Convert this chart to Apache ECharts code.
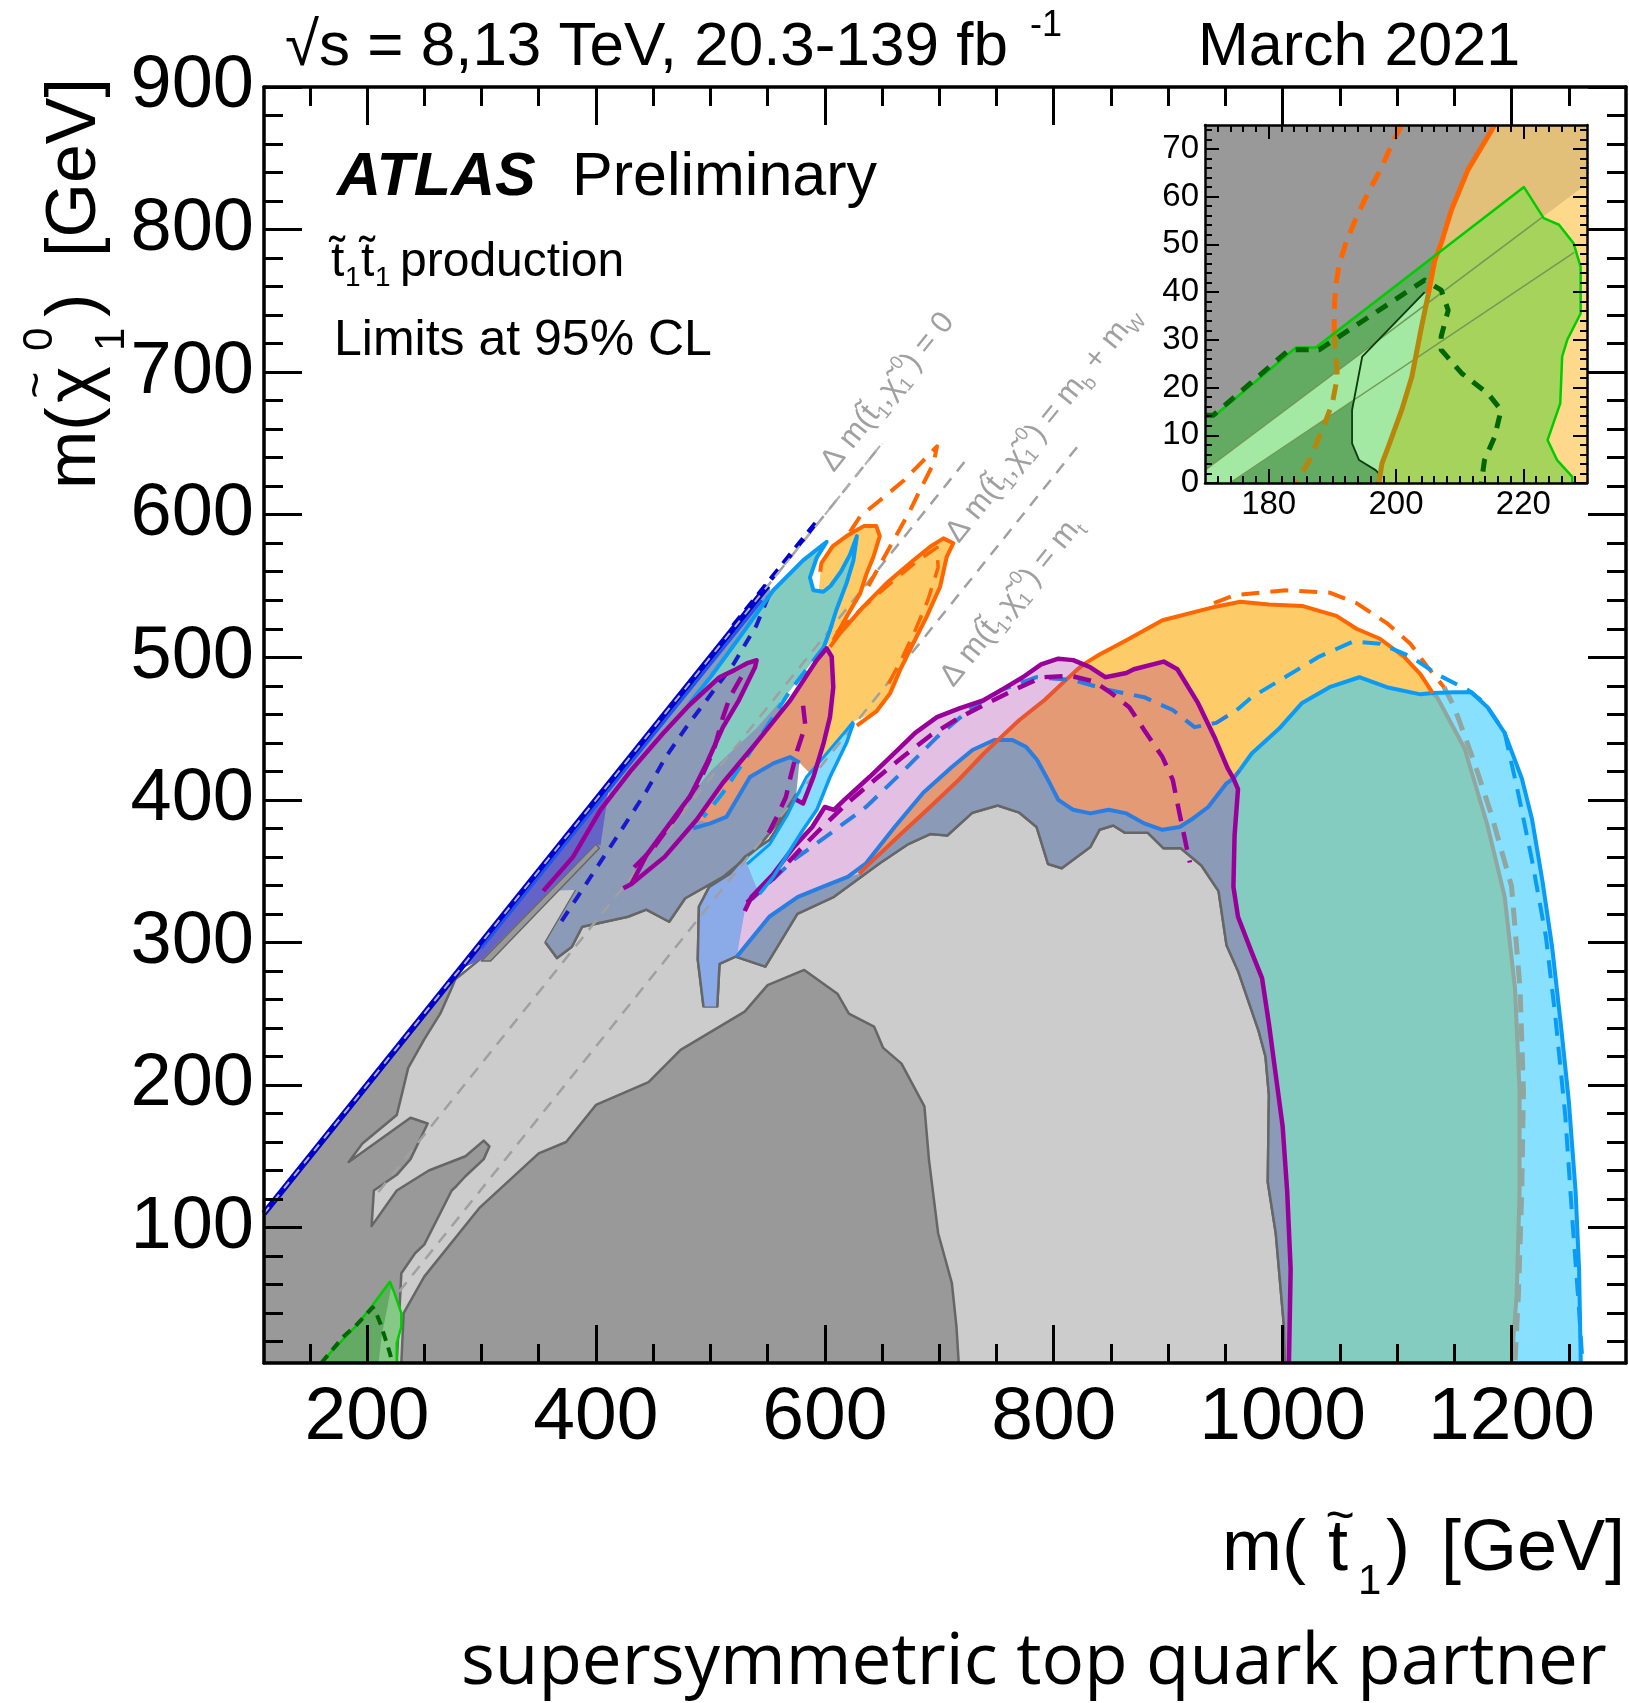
<!DOCTYPE html>
<html>
<head>
<meta charset="utf-8">
<script src="https://cdn.jsdelivr.net/npm/echarts@6/dist/echarts.min.js"></script>
<style>
html, body { margin: 0; padding: 0; background: #ffffff; }
#chart { width: 1629px; height: 1703px; }
</style>
</head>
<body>
<div id="chart"></div>
<script>
// ---------- axes ----------
const X_RANGE = [110, 1300];
const Y_RANGE = [5, 900];
const xMajorTicks = [200, 400, 600, 800, 1000, 1200];
const xMinorTicks = [150, 250, 300, 350, 450, 500, 550, 650, 700, 750, 850, 900, 950, 1050, 1100, 1150, 1250];
const yMajorTicks = [100, 200, 300, 400, 500, 600, 700, 800, 900];
const yMinorTicks = [20, 40, 60, 80, 120, 140, 160, 180, 220, 240, 260, 280, 320, 340, 360, 380, 420, 440, 460, 480,
  520, 540, 560, 580, 620, 640, 660, 680, 720, 740, 760, 780, 820, 840, 860, 880];

const INSET_X_RANGE = [170, 230];
const INSET_Y_RANGE = [0, 75];
const insetXMajorTicks = [180, 200, 220];
const insetXMinorTicks = [172, 174, 176, 178, 182, 184, 186, 188, 190, 192, 194, 196, 198, 202, 204, 206, 208, 210,
  212, 214, 216, 218, 222, 224, 226, 228];
const insetYMajorTicks = [0, 10, 20, 30, 40, 50, 60, 70];
const insetYMinorTicks = [2, 4, 6, 8, 12, 14, 16, 18, 22, 24, 26, 28, 32, 34, 36, 38, 42, 44, 46, 48, 52, 54, 56, 58,
  62, 64, 66, 68, 72, 74];

// ---------- kinematic boundaries ----------
const dmZero = [[110, 110], [650, 650]];
const dmWb = [[210, 125], [725, 640]];
const dmTop = [[228, 55], [825, 652]];

// ---------- grey excluded regions ----------
const lgS1Edge = [[356, 300], [366, 289], [379, 297], [388, 311], [428, 318], [444, 323], [464, 314.5], [478, 331],
  [511, 346], [541, 366], [558, 383], [575, 404]];
const lgChannelEdge = [[575, 404], [567, 391], [552, 372], [530, 360], [517, 348], [499, 339], [490, 325], [489, 288], [494, 255]];
const lgBodyEdge = [[506, 255], [508, 285], [522, 290], [548, 283], [576, 320], [608, 332], [648, 355.5], [673, 369],
  [692, 376], [707, 375], [729, 391], [751, 396], [770, 391], [785, 381], [795, 355], [807, 352], [832, 367], [840, 379],
  [852, 382], [862, 377], [882, 377], [896, 366], [911, 366], [929, 354], [944, 336], [951, 298], [961, 280], [979, 238],
  [985, 220], [988, 193], [987, 132], [994, 96], [1001, 32], [1002, 5]];
const lgLowerLeft = [[180, 5], [180, 140], [274, 272], [300, 289], [399, 370], [404, 366]];

const darkTriangle = [[110, 5], [110, 110], [280, 280], [274, 268], [264, 250], [250, 232], [236, 212], [230, 192],
  [226, 179], [196, 159], [184, 146], [238, 177], [253, 173], [238, 148], [226, 137], [206, 126], [204, 101], [226, 126],
  [254, 140], [286, 150], [302, 161], [307, 157], [302, 148], [286, 136], [278, 129], [274, 126], [250, 88], [242, 82],
  [230, 68], [226, 5]];
const darkSpike = [[300, 287], [308, 287], [403, 366], [400, 369]];
const darkMound = [[230, 5], [232, 40], [250, 65.6], [298, 113.6], [350, 152], [374, 160], [400, 186], [446, 202],
  [474, 224.6], [530, 251.5], [550, 270], [582, 280.7], [611, 264], [621, 250], [643, 241], [651, 226], [667, 215],
  [687, 185], [691, 147.5], [699, 96], [711, 61], [715, 30.6], [717, 5]];

// ---------- compressed-spectrum region near the diagonal ----------
const violetBand = [[284, 282], [298, 298], [412, 412], [404, 368], [400, 369], [300, 288]];
const slateLeft = [[356, 300], [366, 289], [379, 297], [388, 311], [428, 318], [444, 323], [464, 314.5], [478, 331],
  [511, 346], [541, 366], [558, 383], [575, 404], [578, 428], [560, 470], [552, 550], [412, 410], [404, 366]];
const orangeLobeA = [[597, 566], [607, 578], [619, 585], [634, 592], [645, 592], [648, 585], [642.5, 570.5], [636.6, 559],
  [631, 545], [619, 528.5], [607.5, 512], [600, 507], [594, 540]];
const orangeLobeB = [[601.6, 507.4], [613.3, 516.8], [633.7, 535.5], [654, 552], [677.4, 568], [692, 577.5], [703.6, 583.4],
  [712.3, 580], [706.5, 570.5], [700.7, 549.5], [689, 528.5], [677.4, 510], [665.7, 491], [657, 474.7], [645, 462],
  [625, 455], [619, 449], [599, 430], [596, 435], [604.5, 458], [607.4, 479], [606, 500]];
const tealLobe = [[601.6, 581], [581, 568], [555, 547], [526, 514.5], [510, 496], [500, 486], [482, 468], [460, 440],
  [424, 338], [431, 341], [444, 361], [478, 398], [500, 420], [540, 450], [570, 477], [599, 507], [604.5, 519], [610, 533],
  [619, 552], [625, 568], [628, 585], [622, 572], [614, 560], [605, 550], [598.7, 546], [590, 547], [587, 556], [593, 570]];
const purpleFinger = [[540.4, 498], [539, 493], [525, 470], [511, 451], [497, 426], [482, 402], [478, 398], [444, 361],
  [431, 341], [424, 338], [354, 336], [380, 360], [404, 393], [431, 421], [458, 446], [481, 466], [508, 486], [521, 491],
  [531.7, 495.7]];
const salmonLobe = [[488, 386], [511, 412], [540, 440], [570, 470], [593, 498], [601.6, 506.3], [606, 500.4], [607.4, 479],
  [604.5, 458], [599, 440], [590, 416], [578, 426], [569.6, 430], [555, 425.6], [534.6, 416], [514, 388], [500, 383.5]];
const cornflowerGap = [[494, 255], [506, 255], [508, 285], [522, 290], [551.5, 318], [556, 345], [540, 340], [530, 360],
  [517, 348], [499, 339], [490, 325], [489, 288]];
const cyanSliver = [[530, 360], [540, 339], [543, 334], [555, 346], [569.6, 364.8], [581, 378.8], [593, 393], [604.5, 416],
  [619, 440], [625, 454], [619, 449], [599, 430], [584, 416], [575, 404], [567, 391], [552, 372]];

// ---------- main contours (observed) ----------
const purpleTop = [[530, 322], [536, 332], [555, 348], [573, 367], [589, 381], [600, 395], [608, 393], [617, 400],
  [639, 416], [661, 433], [679, 447], [698, 458], [717, 464], [739, 470], [754, 477], [773, 486], [789, 495], [804, 499],
  [817, 498], [826, 495], [832, 493], [845, 486], [863.5, 489], [870, 491.6], [896, 497], [908, 491.6], [926, 468],
  [941, 443], [952, 422], [957, 415], [961, 407.5]];
const purpleRight = [[961, 407.5], [958, 375], [957, 339], [961, 318], [973, 293], [982, 275], [988, 243], [994, 207],
  [1000, 171], [1004, 125], [1007, 71], [1005.5, 5]];
const orangeTop = [[630, 348], [636, 353], [667, 376.5], [692, 395], [717, 414], [739, 432.6], [754, 444], [770, 456],
  [792, 470], [810.5, 484], [820, 491], [826, 495], [840, 502], [863.5, 512], [895, 526], [941.5, 535.5], [963, 539],
  [988, 537], [1017, 536], [1047, 529], [1064.5, 520], [1085, 513], [1106, 500.5], [1120.5, 488], [1131, 475]];
const orangeDown = [[1131, 475], [1135, 472], [1159, 436], [1179, 382], [1194, 332], [1203, 268], [1207, 196],
  [1207, 125], [1204.5, 53], [1200, 5]];
const blueLow = [[523, 290], [551.5, 318], [576.5, 332], [598, 339], [620, 346], [636, 355.5], [661, 381], [686, 405],
  [711, 423], [729, 435], [748, 442], [764, 442], [776, 437], [785.5, 428], [795, 414], [804, 400], [817, 393],
  [832, 390.5], [848, 393], [863.5, 390.5], [879, 383.5], [895, 379], [910, 381], [920, 386], [935, 395], [951, 411.6],
  [957, 415], [962.7, 421]];
const blueHigh = [[962.7, 421], [973, 432.5], [997, 450], [1017, 468], [1041, 479], [1067, 486], [1091, 479],
  [1120.5, 474], [1131, 475], [1150, 475.5], [1165, 475.5], [1179, 465], [1194, 447], [1209, 415], [1218, 386],
  [1227, 343], [1235.5, 296.5], [1243, 243], [1250, 189], [1256, 125], [1259, 71], [1260.5, 5]];

// ---------- expected limits ----------
const orangeExpTop = [[940, 538], [958, 543.5], [1002.5, 547], [1041, 545.3], [1064.5, 538], [1091, 524], [1111.6, 509.5],
  [1126.4, 493.4], [1141, 479]];
const orangeExpDown = [[1141, 479], [1150, 465], [1168, 425], [1182.4, 389.6], [1200, 339.4], [1207.4, 268],
  [1210.4, 196.3], [1208.9, 124.7], [1206, 53], [1203, 5]];
const blueExpLow = [[536, 330], [573, 358], [604, 376], [636, 395], [667, 419], [698, 444], [729, 465], [754, 477],
  [785, 486], [817, 484], [848, 477], [879, 472], [904, 463], [923, 451], [942, 454], [960, 463]];
const blueExpHigh = [[960, 463], [973, 472], [1002, 486], [1032, 500.5], [1061.5, 511], [1085, 509.5], [1112, 500.5],
  [1135, 488], [1162, 477], [1176.5, 468], [1194, 447], [1206, 404], [1218, 357], [1230, 304], [1238, 250], [1247, 178],
  [1253, 107], [1259, 42], [1262, 5]];
const purpleExp = [[532, 328], [555, 345], [583, 369], [598, 381], [620, 398], [645, 415], [668, 430], [692, 445],
  [716, 457], [740, 467], [765, 477], [790, 486], [815, 487], [835, 483], [850, 475], [866, 465], [879, 449], [895, 430],
  [904, 414], [910, 390], [916, 367], [919, 356]];

// ---------- contours near the diagonal ----------
const tealLobeEdge = [[482, 468], [500, 486], [526, 514.5], [555, 547], [581, 568], [601.6, 581], [593, 570], [587, 556],
  [590, 547], [598.7, 546], [605, 550], [614, 560], [622, 572], [628, 585], [625, 568], [619, 552], [610, 533],
  [604.5, 519], [599, 507]];
const tealLobeExp = [[599, 507], [570, 477], [540, 440], [511, 405], [494, 388]];
const cyanEdgeRight = [[625, 454], [619, 440], [604.5, 416], [593, 393], [581, 379], [570, 365], [555, 346], [543, 334]];
const cyanEdgeLeft = [[532, 355], [552, 369], [567, 389], [575, 402], [584, 416], [599, 430], [619, 449], [625, 455]];
const fingerEdge = [[424, 338], [431, 341], [444, 361], [478, 398], [482, 402], [497, 426], [511, 451], [525, 470],
  [539, 493], [540.4, 498], [531.7, 495.7], [521, 491], [508, 486], [481, 466], [458, 446], [431, 421], [404, 393],
  [380, 360], [354, 336]];
const salmonLobeEdge = [[431, 341], [460, 360], [488, 386], [511, 412], [540, 440], [570, 470], [593, 498], [601.6, 506.3],
  [606, 500.4], [607.4, 479], [604.5, 458], [599, 440], [590, 416], [581, 397.5], [575, 400]];
const salmonLobeBlue = [[485, 380], [500, 383.5], [514, 388], [534.6, 416], [555, 425.6], [569.6, 430], [578, 426]];
const salmonLobeExp = [[581, 466], [583, 452], [576, 435], [570, 416], [566, 402], [558, 388], [548, 372]];
const fingerExp = [[527, 486], [517, 472], [511, 458], [503, 435], [490, 412], [470, 388], [450, 366], [430, 350]];
const lobeAEdge = [[596, 560], [597, 566], [607, 578], [619, 585], [634, 592], [645, 592], [648, 585], [642.5, 570.5],
  [636.6, 559], [631, 545], [619, 528.5], [607.5, 512]];
const lobeBEdge = [[604.6, 507.4], [613.3, 516.8], [633.7, 535.5], [654, 552], [677.4, 568], [692, 577.5], [703.6, 583.4],
  [712.3, 580], [706.5, 570.5], [700.7, 549.5], [689, 528.5], [677.4, 510], [665.7, 491], [657, 474.7], [645, 462], [628, 452]];
const lobeExpV = [[622, 588], [631, 599], [648, 610], [669, 624], [686, 638], [698, 648], [695, 636], [683, 617],
  [674.5, 603], [657, 577.6], [642.5, 556.5], [636, 547]];
const lobeBExp = [[610, 517], [632, 534], [656, 551], [680, 567], [698, 577], [699, 563], [690, 540], [678, 517], [666, 497], [652, 476]];
const monojetObs = [[110, 110], [550, 550]];
const monojetObs2 = [[300, 296], [545, 540]];
const monojetExp = [[520, 522], [592, 594]];
const monojetExp2 = [[370, 315], [384, 332], [424, 381], [444, 406], [461, 430], [479, 451], [520, 495], [540, 522], [552, 545]];

// ---------- low-mass region ----------
const greenArea = [[160, 5], [170, 14], [190, 30.6], [204, 44.6], [220, 62], [224, 54], [230, 40], [230, 30.6], [226, 19], [226, 5]];
const greenAreaLight = [[210, 5], [213, 25], [218, 45], [221, 58], [224, 54], [230, 40], [230, 30.6], [226, 19], [226, 5]];
const greenEdge = [[160, 5], [170, 14], [190, 30.6], [204, 44.6], [220, 62], [224, 54], [230, 40], [230, 30.6], [226, 19], [226, 5]];
const greenExp = [[160, 5], [180, 24], [190, 31], [205, 44], [208, 40], [212, 32], [216, 22], [220, 12], [222, 5]];

// ---------- inset ----------
const insetFrame = [[170, 0], [170, 75], [230, 75], [230, 0]];
const insetOrangeEdge = [[197.3, 0], [197.8, 4.1], [198.8, 7.6], [200.9, 15.3], [202.5, 22.3], [204, 32.7], [205.1, 39.7],
  [206.1, 46.7], [207.1, 50.2], [208.7, 57.2], [211.3, 65.6], [215.5, 75]];
const insetTan = [[197.3, 0], [197.8, 4.1], [198.8, 7.6], [200.9, 15.3], [202.5, 22.3], [204, 32.7], [205.1, 39.7],
  [206.1, 46.7], [207.1, 50.2], [208.7, 57.2], [211.3, 65.6], [215.5, 75], [230, 75], [230, 0]];
const insetPaleOrange = [[197.3, 0], [230, 0], [230, 62.7], [204.6, 37.3], [204, 32.7], [202.5, 22.3], [200.9, 15.3],
  [198.8, 7.6], [197.8, 4.1]];
const insetGreen = [[170, 0], [170, 14.2], [171.6, 14.2], [184.3, 28.4], [187.4, 28.4], [220.1, 62], [223.2, 55.5],
  [225.6, 54.1], [227.9, 50.2], [229, 45.3], [229, 35.5], [226.9, 30], [226.1, 26.5], [225.8, 16.7], [223.8, 9],
  [225.3, 4.8], [227.7, 1.3], [227.7, 0]];
const insetBand = [[170, 0], [170, 2.7], [204.6, 37.3], [204, 32.7], [203.6, 26.5], [173.9, 0]];
const insetInner = [[204.5, 39.7], [194.7, 26.5], [193.1, 15.3], [193.1, 8.3], [194.2, 4.8], [196.8, 2.7], [197.8, 1.3],
  [197.5, 0], [197.3, 0], [197.8, 4.1], [198.8, 7.6], [200.9, 15.3], [202.5, 22.3], [204, 32.7], [205.1, 39.7]];
const insetYellowGreen = [[206.4, 48], [220.1, 62], [223.2, 55.5], [225.6, 54.1], [227.9, 50.2], [229, 45.3], [229, 35.5],
  [226.9, 30], [226.1, 26.5], [225.8, 16.7], [223.8, 9], [225.3, 4.8], [227.7, 1.3], [227.7, 0], [197.3, 0], [197.8, 4.1],
  [198.8, 7.6], [200.9, 15.3], [202.5, 22.3], [204, 32.7], [205.1, 39.7], [206.1, 46.7]];
const insetBandUpper = [[170, 2.7], [223, 55.7]];
const insetBandLower = [[173.9, 0], [228, 48.3]];
const insetGreenEdge = [[170, 14.2], [171.6, 14.2], [184.3, 28.4], [187.4, 28.4], [220.1, 62], [223.2, 55.5], [225.6, 54.1],
  [227.9, 50.2], [229, 45.3], [229, 35.5], [226.9, 30], [226.1, 26.5], [225.8, 16.7], [223.8, 9], [225.3, 4.8], [227.7, 1.3], [227.7, 0]];
const insetGreenExp = [[170, 14.2], [171.3, 14.2], [183.2, 27.9], [187.9, 27.9], [204.5, 42.5], [207.1, 40.4], [208.2, 36.2],
  [207.1, 30.7], [207.1, 27.9], [210.3, 23], [214.4, 18.8], [216.5, 15.3], [215.5, 9.7], [213.9, 4.8], [213.4, 0]];
const insetInnerEdge = [[204.5, 40], [194.7, 26.5], [193.1, 15.3], [193.1, 8.3], [194.2, 4.8], [196.8, 2.7], [197.8, 1.3]];
const insetOrangeExp = [[200.9, 75], [199.4, 71.2], [197.8, 66.3], [195.5, 60.5], [193.6, 55.1], [192.1, 50.2], [191, 45.3],
  [190.5, 41.1], [190.3, 36.2], [190.3, 31.5], [190.3, 30.7], [190.8, 22.3], [190, 16.7], [188.4, 11.1], [186.4, 4.8], [184.3, 0]];

// ---------- drawing helpers ----------
const FONT = '"Liberation Sans", Arial, Helvetica, sans-serif';
const MAIN = 0, INSET = 4;

function area(pts, fill, stroke, lw, axis) {
  const ax = axis === undefined ? MAIN : axis;
  return {
    type: 'custom', coordinateSystem: 'cartesian2d', xAxisIndex: ax, yAxisIndex: ax,
    data: pts, silent: true, animation: false, clip: true, z: ax === INSET ? 5 : 2,
    renderItem: function (params, api) {
      if (params.dataIndex !== 0) return null;
      const p = pts.map(function (d) { return api.coord(d); });
      return {
        type: 'polygon', shape: { points: p },
        style: { fill: fill, stroke: stroke || null, lineWidth: lw || 0, lineJoin: 'round' }
      };
    }
  };
}

function curve(pts, color, width, dash, axis) {
  const ax = axis === undefined ? MAIN : axis;
  return {
    type: 'line', data: pts, xAxisIndex: ax, yAxisIndex: ax, showSymbol: false, symbol: 'none',
    silent: true, animation: false, clip: true, z: ax === INSET ? 6 : 3,
    lineStyle: { color: color, width: width, type: dash || 'solid', cap: 'butt', join: 'round' }
  };
}

// composed regions of the high-mass island
const yellowIsland = orangeTop.slice(11).concat(blueHigh.slice(0, 8).reverse(), purpleTop.slice(19, 30).reverse());
const tealIsland = blueHigh.slice(0, 9).concat(orangeDown.slice(1), purpleRight.slice().reverse(), [[957, 415]]);
const lightBlueIsland = blueHigh.slice(8).concat(orangeDown.slice().reverse());
const slateIsland = blueLow.slice(0, 27).concat(purpleRight, lgBodyEdge.slice(2).reverse());
const lilacBand = purpleTop.slice(0, 20).concat(orangeTop.slice(0, 11).reverse(), blueLow.slice(0, 5).reverse());
const salmonIsland = orangeTop.slice(1, 12).concat(purpleTop.slice(20, 30), blueLow.slice(5, 26).reverse());
const lightGreyArea = lgLowerLeft.concat(lgS1Edge, lgChannelEdge.slice(1), lgBodyEdge);

const GREY_EDGE = '#666666';
const DASH = [18, 11];
const KIN_DASH = [12, 9];

const series = [
  area(lightGreyArea, '#cccccc', GREY_EDGE, 2.5),
  area(slateLeft, '#8a9ab7'),
  area(orangeLobeA, '#fecb69'),
  area(orangeLobeB, '#fecb69'),
  area(tealLobe, '#84cbc0'),
  area(purpleFinger, '#8a9ab7'),
  area(salmonLobe, '#e39a75'),
  area(cornflowerGap, '#8aaae8'),
  area(cyanSliver, '#88ddff'),
  area(lightBlueIsland, '#88e0ff'),
  area(tealIsland, '#84cbc0'),
  area(yellowIsland, '#fecb69'),
  area(slateIsland, '#8a9ab7'),
  area(lilacBand, '#e3c0e3'),
  area(salmonIsland, '#e39a75'),
  curve(lgBodyEdge, GREY_EDGE, 2.5),
  curve(lgChannelEdge, GREY_EDGE, 2.5),
  curve(lgS1Edge, GREY_EDGE, 2.5),
  curve(dmZero, '#a0a0a0', 2.5, KIN_DASH),
  curve(dmWb, '#a0a0a0', 2.5, KIN_DASH),
  curve(dmTop, '#a0a0a0', 2.5, KIN_DASH),
  area(darkTriangle, '#999999', GREY_EDGE, 2.5),
  area(darkSpike, '#999999', GREY_EDGE, 1.5),
  area(darkMound, '#999999', GREY_EDGE, 2.5),
  area(violetBand, '#6464c6'),
  area(greenArea, '#64aa64'),
  area(greenAreaLight, '#86c986'),
  curve(greenEdge, '#00cc00', 2.5),
  curve(greenExp, '#006600', 4, [10, 7]),
  curve(orangeDown, '#8fa79f', 4),
  curve(orangeExpDown, '#8fa79f', 5, DASH),
  curve(blueLow, '#2a7de1', 4),
  curve(blueHigh, '#0a9cf5', 4),
  curve(orangeTop.slice(0, 12), '#e8552e', 4),
  curve(orangeTop.slice(11), '#ff6600', 4),
  curve(orangeExpTop, '#ff6600', 4, DASH),
  curve(blueExpLow, '#2a7de1', 4, DASH),
  curve(blueExpHigh, '#0a9cf5', 4, DASH),
  curve(purpleTop.concat(purpleRight.slice(1)), '#990099', 4.5),
  curve(purpleExp, '#990099', 4.5, DASH),
  curve(monojetObs, '#0000cc', 6),
  curve(monojetObs2, '#2255ee', 3),
  curve(monojetExp, '#0000cc', 5, [12, 8]),
  curve(monojetExp2, '#1a1acc', 4, [12, 10]),
  curve(tealLobeEdge, '#0a9cf5', 4),
  curve(tealLobeExp, '#0a9cf5', 4, DASH),
  curve(cyanEdgeRight, '#0a9cf5', 3.5),
  curve(cyanEdgeLeft, '#0a9cf5', 3),
  curve(lobeAEdge, '#ff6600', 4),
  curve(lobeBEdge, '#ff6600', 4),
  curve(lobeExpV, '#ff6600', 4, DASH),
  curve(lobeBExp, '#ff6600', 3.5, DASH),
  curve(salmonLobeBlue, '#2a7de1', 4),
  curve(fingerEdge, '#990099', 4.5),
  curve(fingerExp, '#990099', 4.5, DASH),
  curve(salmonLobeEdge, '#990099', 4.5),
  curve(salmonLobeExp, '#990099', 4.5, DASH),
  curve(dmZero, '#b0b0b0', 2, [8, 8]),
  // inset
  area(insetFrame, '#999999', null, 0, INSET),
  area(insetTan, '#e3c07a', null, 0, INSET),
  area(insetPaleOrange, '#fed98b', null, 0, INSET),
  area(insetGreen, '#63aa63', null, 0, INSET),
  area(insetBand, '#a3e9a3', null, 0, INSET),
  area(insetInner, '#a3e9a3', null, 0, INSET),
  area(insetYellowGreen, '#a6d35c', null, 0, INSET),
  curve(insetBandUpper, '#6f9a55', 1.5, 'solid', INSET),
  curve(insetBandLower, '#6f9a55', 1.5, 'solid', INSET),
  curve(insetInnerEdge, '#0d3d0d', 1.8, 'solid', INSET),
  curve(insetOrangeEdge.slice(0, 7), '#b8860b', 5, 'solid', INSET),
  curve(insetOrangeEdge.slice(6), '#ff6600', 5, 'solid', INSET),
  curve(insetOrangeExp.slice(0, 10), '#ff6600', 5, [16, 10], INSET),
  curve(insetOrangeExp.slice(9), '#b8860b', 5, [16, 10], INSET),
  curve(insetGreenEdge, '#00cc00', 2.5, 'solid', INSET),
  curve(insetGreenExp, '#006600', 5, [13, 10], INSET)
];

// ---------- axes ----------
function plainNumber(v) { return String(v); }
function axisDef(grid, range, position, ticks, len, width, showLine, labels, fontSize, margin) {
  return {
    type: 'value', gridIndex: grid, min: range[0], max: range[1], position: position, z: 10,
    axisLine: { show: showLine, onZero: false, lineStyle: { color: '#000', width: width + 0.5 } },
    axisTick: { show: true, inside: true, length: len, customValues: ticks, lineStyle: { color: '#000', width: width } },
    axisLabel: labels ? { show: true, customValues: labels, formatter: plainNumber, fontSize: fontSize, fontFamily: FONT,
      color: '#000', margin: margin } : { show: false },
    splitLine: { show: false }
  };
}
const xAxes = [
  axisDef(0, X_RANGE, 'bottom', xMajorTicks, 38, 3, true, xMajorTicks, 75, 18),
  axisDef(0, X_RANGE, 'bottom', xMinorTicks, 19, 3, false),
  axisDef(0, X_RANGE, 'top', xMajorTicks, 38, 3, true),
  axisDef(0, X_RANGE, 'top', xMinorTicks, 19, 3, false),
  axisDef(1, INSET_X_RANGE, 'bottom', insetXMajorTicks, 14, 2, true, insetXMajorTicks, 33, 5),
  axisDef(1, INSET_X_RANGE, 'bottom', insetXMinorTicks, 7, 2, false),
  axisDef(1, INSET_X_RANGE, 'top', insetXMajorTicks, 14, 2, true),
  axisDef(1, INSET_X_RANGE, 'top', insetXMinorTicks, 7, 2, false)
];
const yAxes = [
  axisDef(0, Y_RANGE, 'left', yMajorTicks, 38, 3, true, yMajorTicks, 74, 10),
  axisDef(0, Y_RANGE, 'left', yMinorTicks, 19, 3, false),
  axisDef(0, Y_RANGE, 'right', yMajorTicks, 38, 3, true),
  axisDef(0, Y_RANGE, 'right', yMinorTicks, 19, 3, false),
  axisDef(1, INSET_Y_RANGE, 'left', insetYMajorTicks, 14, 2, true, insetYMajorTicks, 33, 6),
  axisDef(1, INSET_Y_RANGE, 'left', insetYMinorTicks, 7, 2, false),
  axisDef(1, INSET_Y_RANGE, 'right', insetYMajorTicks, 14, 2, true),
  axisDef(1, INSET_Y_RANGE, 'right', insetYMinorTicks, 7, 2, false)
];

const chart = echarts.init(document.getElementById('chart'), null, { renderer: 'canvas' });
chart.setOption({
  backgroundColor: '#ffffff',
  animation: false,
  grid: [
    { left: 264, top: 87, width: 1362, height: 1276, show: false },
    { left: 1205, top: 125, width: 382, height: 358, show: false }
  ],
  xAxis: xAxes,
  yAxis: yAxes,
  series: series
});

// ---------- text ----------
function txt(str, x, y, size, extra) {
  const style = Object.assign({
    text: str, x: 0, y: 0, fill: '#000', fontSize: size, fontFamily: FONT,
    align: 'left', verticalAlign: 'middle', textAlign: 'left', textVerticalAlign: 'middle'
  }, extra || {});
  return { type: 'text', x: x, y: y, z: 20, silent: true, style: style };
}

const KIN_GREY = '#a0a0a0';
const KIN_RICH = {
  n: { fontSize: 31, fontFamily: FONT, fill: KIN_GREY, lineHeight: 40 },
  s: { fontSize: 19, fontFamily: FONT, fill: KIN_GREY, verticalAlign: 'bottom', lineHeight: 18 },
  u: { fontSize: 19, fontFamily: FONT, fill: KIN_GREY, verticalAlign: 'top', lineHeight: 18 }
};
const kinLabels = [
  { text: '{n|\u0394 m(t\u0303}{s|1}{n|,\u03c7\u0303}{s|1}{u|0}{n|) = 0}', at: [655, 686] },
  { text: '{n|\u0394 m(t\u0303}{s|1}{n|,\u03c7\u0303}{s|1}{u|0}{n|) = m}{s|b}{n| + m}{s|W}', at: [791, 663] },
  { text: '{n|\u0394 m(t\u0303}{s|1}{n|,\u03c7\u0303}{s|1}{u|0}{n|) = m}{s|t}', at: [763, 539] }
];
const ANGLE = Math.atan2(1.4257, 1.1445);

const graphics = [
  txt('\u221as = 8,13 TeV, 20.3-139 fb', 285, 48, 62),
  txt('-1', 1030, 26, 36),
  txt('March 2021', 1198, 48, 61),
  txt('ATLAS', 337, 178, 61, { fontWeight: 'bold', fontStyle: 'italic' }),
  txt('Preliminary', 572, 178, 61),
  txt('t\u0303', 331, 263, 48),
  txt('1', 345, 278, 28),
  txt('t\u0303', 361, 263, 48),
  txt('1', 375, 278, 28),
  txt('production', 400, 263, 48),
  txt('Limits at 95% CL', 334, 341, 50),
  // x-axis title
  txt('m(', 1222, 1550, 72),
  txt('t', 1328, 1550, 72),
  txt('~', 1340, 1518, 50, { align: 'center', textAlign: 'center' }),
  txt('1', 1358, 1582, 42),
  txt(')', 1386, 1550, 72),
  txt('[GeV]', 1441, 1550, 72),
  txt('supersymmetric top quark partner', 461, 1664, 71, { fontFamily: '"Open Sans", "Noto Sans", sans-serif' }),
  // y-axis title, rotated
  {
    type: 'group', x: 100, y: 489, rotation: Math.PI / 2, z: 20, silent: true,
    children: [
      txt('m(', 0, -24, 70),
      txt('\u03c7', 86, -24, 70),
      txt('~', 104, -62, 46, { align: 'center', textAlign: 'center' }),
      txt('1', 138, 12, 42),
      txt('0', 138, -60, 42),
      txt(')', 172, -24, 70),
      txt('[GeV]', 232, -24, 70)
    ]
  }
];
kinLabels.forEach(function (l) {
  const p = chart.convertToPixel({ gridIndex: 0 }, l.at);
  graphics.push({
    type: 'text', x: p[0], y: p[1], rotation: ANGLE, z: 20, silent: true,
    style: { text: l.text, rich: KIN_RICH, x: 0, y: 0, fill: KIN_GREY, fontSize: 31, fontFamily: FONT,
      align: 'center', verticalAlign: 'middle', textAlign: 'center', textVerticalAlign: 'middle' }
  });
});
chart.setOption({ graphic: graphics });
</script>
</body>
</html>
